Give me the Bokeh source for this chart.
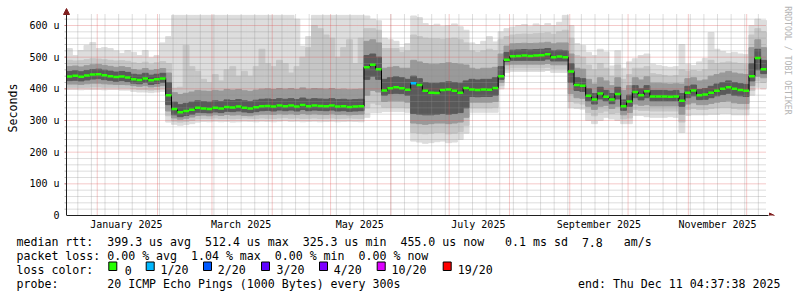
import math
import pandas as pd
from bokeh.plotting import figure
from bokeh.layouts import column
from bokeh.models import (Range1d, FixedTicker, CustomJSTickFormatter,
                          DatetimeTickFormatter, Arrow, NormalHead, Label)
from bokeh.core.properties import value
from bokeh.embed import file_html
from bokeh.resources import INLINE

# ---------------- data (3-day bins, from 2024-12-16 04:37:38) ----------------
START = pd.Timestamp("2024-12-16 04:37:38")
STEP = pd.Timedelta(days=3)

med = [439, 441, 438, 442, 445, 446, 443, 440, 437, 439, 436, 430, 428, 433, 427, 430, 433, 380,
       336, 326, 330, 334, 340, 338, 336, 340, 338, 343, 341, 344, 340, 338, 342, 345, 346, 344,
       347, 345, 347, 344, 349, 345, 347, 346, 345, 347, 344, 345, 343, 344, 345,
       468, 476, 462,
       395, 402, 405, 402, 397, 418, 412, 394, 388, 387, 396, 398, 394, 388, 403, 398, 396, 398, 397, 403,
       440, 492, 503, 504, 505, 504, 505, 506, 509, 500, 502, 500,
       455, 412, 410, 378, 366, 385, 375, 366, 384, 345, 360, 390, 380, 392, 376, 376, 376, 375, 376,
       362, 388, 395, 380, 382, 388, 394, 400, 405, 400, 396, 394, 440, 497, 462]

lo0 = [398, 398, 397, 398, 398, 398, 397, 398, 398, 396, 396, 392, 390, 390, 388, 390, 392, 295,
       288, 285, 287, 290, 295, 297, 296, 298, 296, 297, 295, 296, 298, 297, 296, 298, 297, 296,
       298, 299, 297, 298, 296, 297, 298, 296, 297, 298, 296, 297, 298, 297, 296,
       310, 325, 325,
       328, 328, 328, 328, 326, 235, 232, 228, 230, 233, 235, 230, 232, 240, 260, 326, 326, 326, 326, 326,
       400, 452, 455, 455, 455, 455, 455, 455, 458, 452, 452, 452,
       340, 338, 336, 300, 290, 300, 310, 305, 300, 290, 290, 316, 316, 312, 310, 310, 310, 312, 310,
       262, 316, 318, 318, 318, 320, 320, 322, 322, 318, 318, 318, 380, 405, 400]

lo1 = [405, 405, 404, 405, 406, 406, 405, 405, 405, 403, 403, 400, 398, 398, 396, 398, 400, 315,
       298, 295, 297, 300, 305, 307, 306, 308, 306, 307, 305, 306, 308, 307, 306, 308, 307, 306,
       308, 309, 307, 308, 306, 307, 308, 306, 307, 308, 306, 307, 308, 307, 306,
       340, 355, 350,
       342, 342, 342, 342, 340, 262, 260, 258, 260, 262, 262, 258, 260, 265, 285, 340, 340, 340, 340, 342,
       410, 464, 466, 466, 466, 466, 466, 466, 468, 464, 464, 464,
       360, 355, 352, 325, 315, 325, 330, 322, 325, 305, 308, 335, 332, 332, 330, 330, 330, 330, 330,
       295, 335, 338, 335, 335, 338, 340, 342, 342, 338, 336, 336, 395, 425, 420]

lo2 = [415, 415, 414, 416, 418, 418, 416, 415, 414, 414, 413, 410, 408, 410, 406, 408, 410, 330,
       308, 304, 307, 311, 316, 317, 315, 318, 316, 319, 317, 318, 316, 315, 318, 320, 320, 319,
       321, 320, 321, 319, 322, 320, 321, 320, 319, 321, 319, 320, 318, 319, 320,
       380, 395, 390,
       360, 362, 362, 362, 358, 292, 290, 288, 290, 292, 292, 290, 292, 295, 310, 358, 358, 358, 358, 360,
       420, 476, 478, 478, 478, 478, 478, 478, 480, 476, 476, 476,
       385, 372, 370, 345, 335, 345, 348, 338, 345, 318, 325, 352, 348, 350, 346, 346, 346, 346, 346,
       320, 352, 356, 350, 350, 354, 358, 360, 362, 356, 354, 354, 410, 440, 435]

lo3 = [426, 427, 425, 428, 431, 432, 429, 427, 424, 426, 423, 418, 416, 420, 414, 417, 420, 350,
       318, 312, 316, 320, 326, 325, 324, 327, 325, 329, 328, 330, 327, 325, 328, 331, 332, 330,
       333, 331, 333, 330, 335, 331, 333, 332, 331, 333, 330, 331, 329, 330, 331,
       430, 440, 430,
       380, 385, 386, 385, 380, 322, 320, 318, 318, 320, 322, 320, 322, 325, 340, 376, 375, 376, 376, 380,
       430, 486, 490, 490, 490, 490, 490, 490, 494, 488, 488, 488,
       420, 395, 392, 362, 352, 368, 362, 353, 368, 332, 345, 372, 365, 372, 362, 362, 362, 362, 362,
       345, 372, 378, 366, 367, 372, 378, 382, 386, 380, 378, 376, 425, 460, 448]

hi3 = [455, 457, 454, 458, 461, 462, 459, 456, 453, 455, 452, 446, 444, 449, 443, 446, 449, 420,
       358, 350, 354, 358, 362, 360, 358, 362, 360, 365, 363, 366, 362, 360, 364, 367, 368, 366,
       369, 367, 369, 366, 371, 367, 369, 368, 367, 369, 366, 367, 365, 366, 367,
       505, 510, 500,
       430, 435, 438, 435, 430, 440, 432, 420, 418, 418, 420, 422, 420, 418, 425, 430, 428, 430, 430, 435,
       470, 515, 522, 523, 524, 523, 524, 525, 527, 520, 522, 520,
       480, 435, 432, 400, 385, 405, 395, 385, 405, 365, 380, 410, 400, 410, 395, 395, 395, 393, 395,
       385, 408, 412, 398, 401, 408, 415, 420, 425, 420, 416, 414, 480, 525, 490]

hi2 = [470, 472, 469, 473, 476, 477, 474, 471, 468, 470, 467, 461, 459, 464, 458, 461, 464, 450,
       388, 382, 386, 390, 395, 393, 392, 395, 393, 398, 396, 398, 394, 392, 396, 399, 400, 398,
       401, 399, 401, 398, 403, 399, 401, 400, 399, 401, 398, 399, 397, 398, 399,
       550, 555, 545,
       465, 468, 470, 465, 465, 490, 485, 480, 478, 478, 480, 482, 480, 478, 475, 465, 462, 465, 465, 468,
       510, 535, 542, 543, 544, 543, 544, 545, 547, 542, 545, 545,
       510, 465, 462, 430, 415, 435, 425, 410, 435, 395, 410, 435, 428, 438, 418, 418, 416, 415, 416,
       415, 432, 435, 425, 428, 440, 445, 450, 455, 450, 447, 445, 530, 555, 530]

hi1 = [490, 488, 489, 492, 495, 494, 492, 490, 488, 489, 487, 482, 480, 484, 478, 482, 486, 480,
       402, 405, 537, 470, 455, 430, 420, 445, 425, 460, 470, 440, 455, 440, 470, 525, 480, 470,
       490, 480, 450, 470, 500, 530, 600, 590, 570, 560, 500, 530, 555, 480, 560,
       590, 590, 585,
       527, 527, 527, 515, 520, 570, 565, 560, 558, 558, 556, 558, 560, 555, 545, 520, 515, 520, 525, 520,
       555, 565, 570, 572, 573, 572, 574, 575, 577, 572, 580, 585,
       560, 505, 500, 475, 460, 480, 465, 440, 475, 430, 445, 465, 465, 470, 448, 445, 442, 440, 442,
       460, 455, 458, 455, 460, 490, 480, 482, 485, 482, 480, 478, 570, 590, 580]

hi0 = [527, 505, 521, 537, 546, 527, 530, 527, 520, 512, 521, 515, 505, 521, 498, 505, 545, 565,
       632, 632, 632, 632, 632, 632, 632, 632, 632, 632, 632, 632, 632, 632, 632, 632, 632, 632,
       632, 632, 632, 620, 535, 565, 632, 632, 632, 632, 632, 632, 632, 632, 632,
       630, 620, 615,
       560, 555, 550, 531, 543, 630, 625, 606, 600, 604, 598, 600, 605, 596, 585, 545, 540, 550, 565, 548,
       580, 590, 595, 600, 603, 598, 605, 600, 606, 600, 610, 632,
       600, 543, 537, 515, 505, 525, 516, 472, 520, 465, 485, 495, 505, 510, 478, 474, 470, 468, 470,
       540, 478, 474, 485, 496, 578, 525, 518, 512, 515, 510, 508, 600, 620, 616]

loss = [0] * 59 + [1] + [0] * 60   # lost pings (of 20) per bin

loss_steps = [0, 1, 2, 3, 4, 10, 19]
loss_labels = ["0", "1/20", "2/20", "3/20", "4/20", "10/20", "19/20"]
loss_colors = ["#26ff00", "#00b8ff", "#0059ff", "#5e00ff", "#7e00ff", "#dd00ff", "#ff0000"]

y_major = [0, 100, 200, 300, 400, 500, 600]
y_minor = list(range(20, 640, 20))
month_starts = list(pd.date_range("2025-01-01", "2025-12-01", freq="MS"))
week_lines = list(pd.date_range("2024-12-22", "2025-12-10", freq="7D"))
label_dates = [pd.Timestamp(2025, m, 16) for m in (1, 3, 5, 7, 9, 11)]

stats_line1 = [(0, "median rtt:"), (13, "399.3 us avg"), (27, "512.4 us max"),
               (41, "325.3 us min"), (55, "455.0 us now"), (70, "0.1 ms sd"),
               (81, "7.8"), (87, "am/s")]
stats_line2 = [(0, "packet loss:"), (13, "0.00 % avg"), (25, "1.04 % max"),
               (37, "0.00 % min"), (49, "0.00 % now")]
probe_text = "20 ICMP Echo Pings (1000 Bytes) every 300s"
end_text = "end: Thu Dec 11 04:37:38 2025"

# ---------------- helpers / layout ----------------
DAY_MS = 86400000.0


def ms(t):
    return pd.Timestamp(t).value / 1e6


PX_DAY = 700.0 / 360.0
VAL_PX = 190.0 / 600.0
FRAME_L = 60


def xpx(px):
    return ms(START) + (px - 66) / PX_DAY * DAY_MS


def ypx(py):
    return (215 - py) / VAL_PX


N = len(med)
edges = [ms(START + STEP * i) for i in range(N + 1)]
lefts, rights = edges[:-1], edges[1:]

MONO = "DejaVu Sans Mono"
GRID_C = "#8f8f8f"
MGRID_C = "#de4f4f"
ARROW_C = "#801f1f"
AXIS_C = "#1f1f1f"

p = figure(width=797, height=236, x_axis_type="datetime",
           x_range=Range1d(xpx(FRAME_L), xpx(797)), y_range=Range1d(0, ypx(0)),
           toolbar_location=None, output_backend="svg", frame_align=False,
           min_border_left=FRAME_L, min_border_right=0, min_border_top=0, min_border_bottom=21)
p.outline_line_color = None
p.grid.visible = False
p.background_fill_color = "white"
p.border_fill_color = "white"

# smoke bands (outer to inner)
for lo, hi, c in [(lo0, hi0, "#dddddd"), (lo1, hi1, "#c6c6c6"),
                  (lo2, hi2, "#9a9a9a"), (lo3, hi3, "#5a5a5a")]:
    p.quad(left=lefts, right=rights, bottom=lo, top=hi,
           fill_color=c, line_color=c, line_width=1)

# grid
gx0, gx1 = xpx(66), xpx(766)
gtop = ypx(13)
minor_h = [v for v in y_minor if v % 100]
p.segment(x0=[gx0] * len(minor_h), x1=[gx1] * len(minor_h), y0=minor_h, y1=minor_h,
          line_color=GRID_C, line_alpha=0.6, line_dash="1 1", line_width=1)
wk = [ms(t) for t in week_lines]
p.segment(x0=wk, x1=wk, y0=[0] * len(wk), y1=[gtop] * len(wk),
          line_color=GRID_C, line_alpha=0.6, line_dash="1 1", line_width=1)
major_h = [v for v in y_major if v > 0]
p.segment(x0=[gx0] * len(major_h), x1=[gx1] * len(major_h), y0=major_h, y1=major_h,
          line_color=MGRID_C, line_alpha=0.6, line_dash="1 1", line_width=1)
mo = [ms(t) for t in month_starts]
p.segment(x0=mo, x1=mo, y0=[0] * len(mo), y1=[gtop] * len(mo),
          line_color=MGRID_C, line_alpha=0.6, line_dash="1 1", line_width=1)

# small ticks left of the value axis
p.segment(x0=[xpx(64)] * len(y_minor), x1=[xpx(66)] * len(y_minor), y0=y_minor, y1=y_minor,
          line_color=GRID_C, line_alpha=0.6, line_width=1)
p.segment(x0=[xpx(64)] * len(major_h), x1=[xpx(66)] * len(major_h), y0=major_h, y1=major_h,
          line_color=MGRID_C, line_alpha=0.6, line_width=1)

# median
p.step(x=edges, y=med + [med[-1]], mode="after", line_color="#000000", line_width=1)
cmap = dict(zip(loss_steps, loss_colors))
p.segment(x0=lefts, x1=rights, y0=med, y1=med,
          line_color=[cmap[l] for l in loss], line_width=2.5)

# value axis line (at the data start) and arrows
p.segment(x0=[xpx(66)], x1=[xpx(66)], y0=[0], y1=[ypx(9)], line_color=AXIS_C, line_width=1)
p.add_layout(Arrow(end=NormalHead(size=5, fill_color=ARROW_C, line_color=ARROW_C, line_width=1),
                   x_start=xpx(764), y_start=0, x_end=xpx(774), y_end=0, line_color=None))
p.add_layout(Arrow(end=NormalHead(size=6, fill_color=ARROW_C, line_color=ARROW_C, line_width=1),
                   x_start=xpx(66), y_start=ypx(16), x_end=xpx(66), y_end=ypx(8), line_color=None))

# axes
ya = p.yaxis[0]
ya.ticker = FixedTicker(ticks=y_major, minor_ticks=y_minor)
ya.formatter = CustomJSTickFormatter(code="return tick == 0 ? '0' : tick.toFixed(0) + ' u';")
ya.major_label_text_font = MONO
ya.major_label_text_font_size = "10px"
ya.major_label_text_color = "#000000"
ya.major_label_standoff = 1
ya.major_tick_out = 0
ya.major_tick_in = 0
ya.minor_tick_out = 0
ya.minor_tick_in = 0
ya.major_tick_line_color = None
ya.minor_tick_line_color = None
ya.axis_line_color = None
ya.bounds = (0, ypx(9))
ya.axis_label = "Seconds"
ya.axis_label_text_font = MONO
ya.axis_label_text_font_size = "11.6px"
ya.axis_label_text_font_style = "normal"
ya.axis_label_text_color = "#000000"
ya.axis_label_standoff = 6

xa = p.xaxis[0]
xa.ticker = FixedTicker(ticks=[ms(t) for t in label_dates])
fmt = "%B %Y"
xa.formatter = DatetimeTickFormatter(microseconds=fmt, milliseconds=fmt, seconds=fmt,
                                     minsec=fmt, minutes=fmt, hourmin=fmt, hours=fmt,
                                     days=fmt, months=fmt, years=fmt)
xa.major_tick_line_color = None
xa.minor_tick_line_color = None
xa.major_tick_out = 0
xa.major_tick_in = 0
xa.minor_tick_out = 0
xa.minor_tick_in = 0
xa.major_label_text_font = MONO
xa.major_label_text_font_size = "10px"
xa.major_label_text_color = "#000000"
xa.major_label_standoff = 3
xa.axis_line_color = AXIS_C
xa.bounds = (xpx(66), xpx(768))

# watermark
p.text(x=[xpx(787)], y=[ypx(60)], text=["RRDTOOL / TOBI OETIKER"], angle=-math.pi / 2,
       text_align="center", text_baseline="middle", text_font=value(MONO),
       text_font_size=value("8.2px"), text_color="#b4b4b4")

# ---------------- legend / stats area (x in page pixels, y from its top) ----------------
q = figure(width=797, height=61, x_range=Range1d(0, 797), y_range=Range1d(61, 0),
           toolbar_location=None, output_backend="svg", frame_align=False,
           min_border_left=0, min_border_right=0, min_border_top=0, min_border_bottom=0,
           x_axis_location=None, y_axis_location=None)
q.outline_line_color = None
q.grid.visible = False
q.background_fill_color = "white"
q.border_fill_color = "white"

CW = 6.98
X0 = 16
B1, B2, B3, B4 = 5.5, 19.5, 33.5, 47.5
items = []
for col, s in stats_line1:
    items.append((X0 + col * CW, B1, s))
for col, s in stats_line2:
    items.append((X0 + col * CW, B2, s))
items.append((X0, B3, "loss color:"))
label_x = [124.3, 160, 217.3, 276, 333.3, 391, 457.3]
for x, s in zip(label_x, loss_labels):
    items.append((x, B3, s))
items.append((X0, B4, "probe:"))
items.append((X0 + 13 * CW, B4, probe_text))
items.append((577.5, B4, end_text))

for x, y, s in items:
    q.add_layout(Label(x=x, y=y, x_units="data", y_units="data", text=s,
                       text_font=MONO, text_font_size="11.6px", text_color="#000000",
                       text_baseline="alphabetic", text_align="left"))

box_x = [108.3, 145.7, 203, 261, 319, 376.7, 442.7]
q.quad(left=box_x, right=[b + 8 for b in box_x], top=[25.5] * len(box_x),
       bottom=[34] * len(box_x), fill_color=loss_colors, line_color="#000000", line_width=1)

layout = column(p, q, spacing=0)
open("out.html", "w").write(file_html(layout, INLINE))
